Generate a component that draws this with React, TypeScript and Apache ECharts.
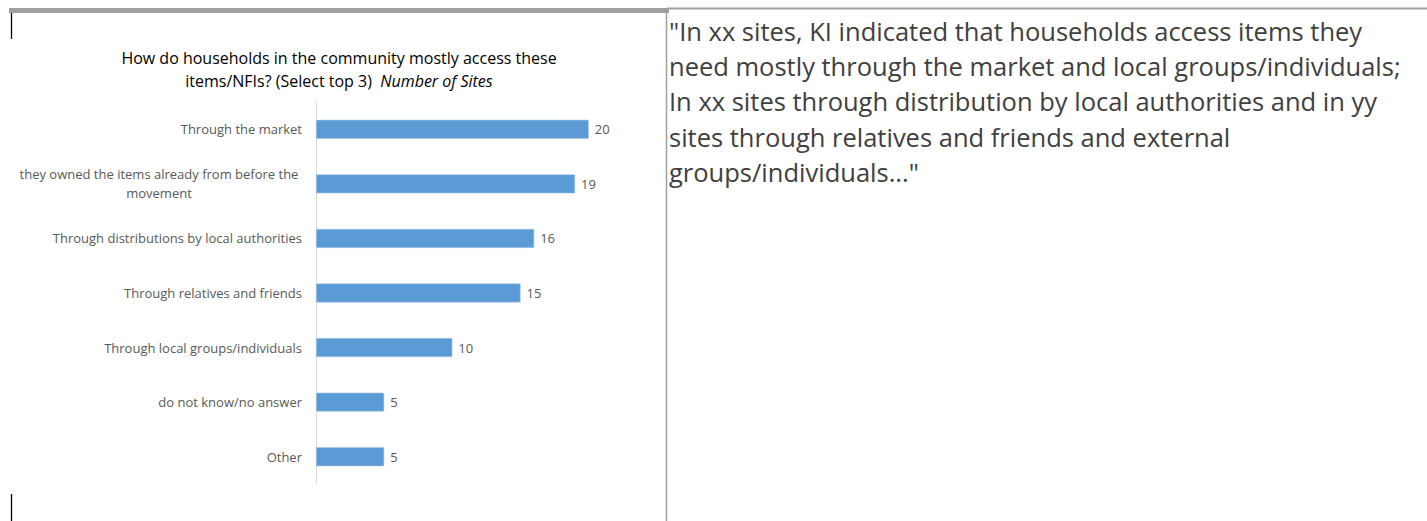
import React, { useEffect, useRef } from "react";
import * as echarts from "echarts";

const categories = [
  "Through the market",
  "they owned the items already from before the\nmovement",
  "Through distributions by local authorities",
  "Through relatives and friends",
  "Through local groups/individuals",
  "do not know/no answer",
  "Other",
];
const values = [20, 19, 16, 15, 10, 5, 5];
const titleLine1 = "How do households in the community mostly access these";
const titleLine2 = "items/NFIs? (Select top 3)  ";
const titleUnit = "Number of Sites";
const paragraph = [
  '"In xx sites, KI indicated that households access items they',
  "need mostly through the market and local groups/individuals;",
  "In xx sites through distribution by local authorities and in yy",
  "sites through relatives and friends and external",
  'groups/individuals..."',
];

const FONT = "'Open Sans', sans-serif";
const LABEL_SIZE = 13;

export default function App() {
  const ref = useRef<HTMLDivElement>(null);
  useEffect(() => {
    if (!ref.current) return;
    const chart = echarts.init(ref.current, undefined, { renderer: "svg" });
    chart.setOption({
      animation: false,
      backgroundColor: "#ffffff",
      textStyle: { fontFamily: FONT },
      grid: { left: 316, right: 811, top: 102, bottom: 37, containLabel: false },
      xAxis: {
        type: "value",
        min: 0,
        max: 22,
        show: false,
        splitLine: { show: false },
      },
      yAxis: {
        type: "category",
        inverse: true,
        data: categories,
        axisLine: { show: true, lineStyle: { color: "#d9d9d9", width: 1 } },
        axisTick: { show: false },
        axisLabel: {
          margin: 14,
          fontSize: LABEL_SIZE,
          color: "#595959",
          fontFamily: FONT,
          formatter: (v: string) =>
            v
              .split("\n")
              .map((l) => (v.indexOf("\n") >= 0 ? `{c|${l}}` : `{r|${l}}`))
              .join("\n"),
          rich: {
            c: { width: 286, align: "center", fontSize: LABEL_SIZE, color: "#595959", lineHeight: 19, fontFamily: FONT },
            r: { fontSize: LABEL_SIZE, color: "#595959", fontFamily: FONT },
          },
        },
      },
      series: [
        {
          type: "bar",
          data: values,
          barWidth: 19,
          itemStyle: { color: "#5b9bd5", borderColor: "#a9c8ea", borderWidth: 0.6 },
          label: {
            show: true,
            position: "right",
            distance: 6,
            fontSize: LABEL_SIZE,
            color: "#595959",
            fontFamily: FONT,
          },
        },
      ],
      graphic: [
        { type: "rect", shape: { x: 9, y: 8, width: 660, height: 5 }, style: { fill: "#a0a0a0" }, silent: true },
        { type: "line", shape: { x1: 667, y1: 8.5, x2: 1427, y2: 8.5 }, style: { stroke: "#a0a0a0", lineWidth: 2 }, silent: true },
        { type: "line", shape: { x1: 666.5, y1: 10, x2: 666.5, y2: 521 }, style: { stroke: "#a0a0a0", lineWidth: 1.5 }, silent: true },
        { type: "line", shape: { x1: 11.5, y1: 13, x2: 11.5, y2: 39 }, style: { stroke: "#000000", lineWidth: 1.3 }, silent: true },
        { type: "line", shape: { x1: 11.5, y1: 494, x2: 11.5, y2: 521 }, style: { stroke: "#000000", lineWidth: 1.3 }, silent: true },
        {
          type: "text",
          x: 339,
          y: 69,
          style: {
            text: `{a|${titleLine1}}\n{a|${titleLine2}}{b|${titleUnit}}`,
            align: "center",
            verticalAlign: "middle",
            rich: {
              a: { fontSize: 16, color: "#595959", fontFamily: FONT, lineHeight: 23 },
              b: { fontSize: 16, color: "#595959", fontFamily: FONT, fontStyle: "italic", lineHeight: 23 },
            },
          },
        },
        {
          type: "text",
          x: 669,
          y: 13,
          style: {
            text: paragraph.join("\n"),
            fontSize: 25.5,
            lineHeight: 35.3,
            fill: "#404040",
            fontFamily: FONT,
            align: "left",
            verticalAlign: "top",
          },
        },
      ],
    });
    return () => chart.dispose();
  }, []);
  return (
    <div
      ref={ref}
      style={{ position: "fixed", left: 0, top: 0, width: 1427, height: 521 }}
    />
  );
}
